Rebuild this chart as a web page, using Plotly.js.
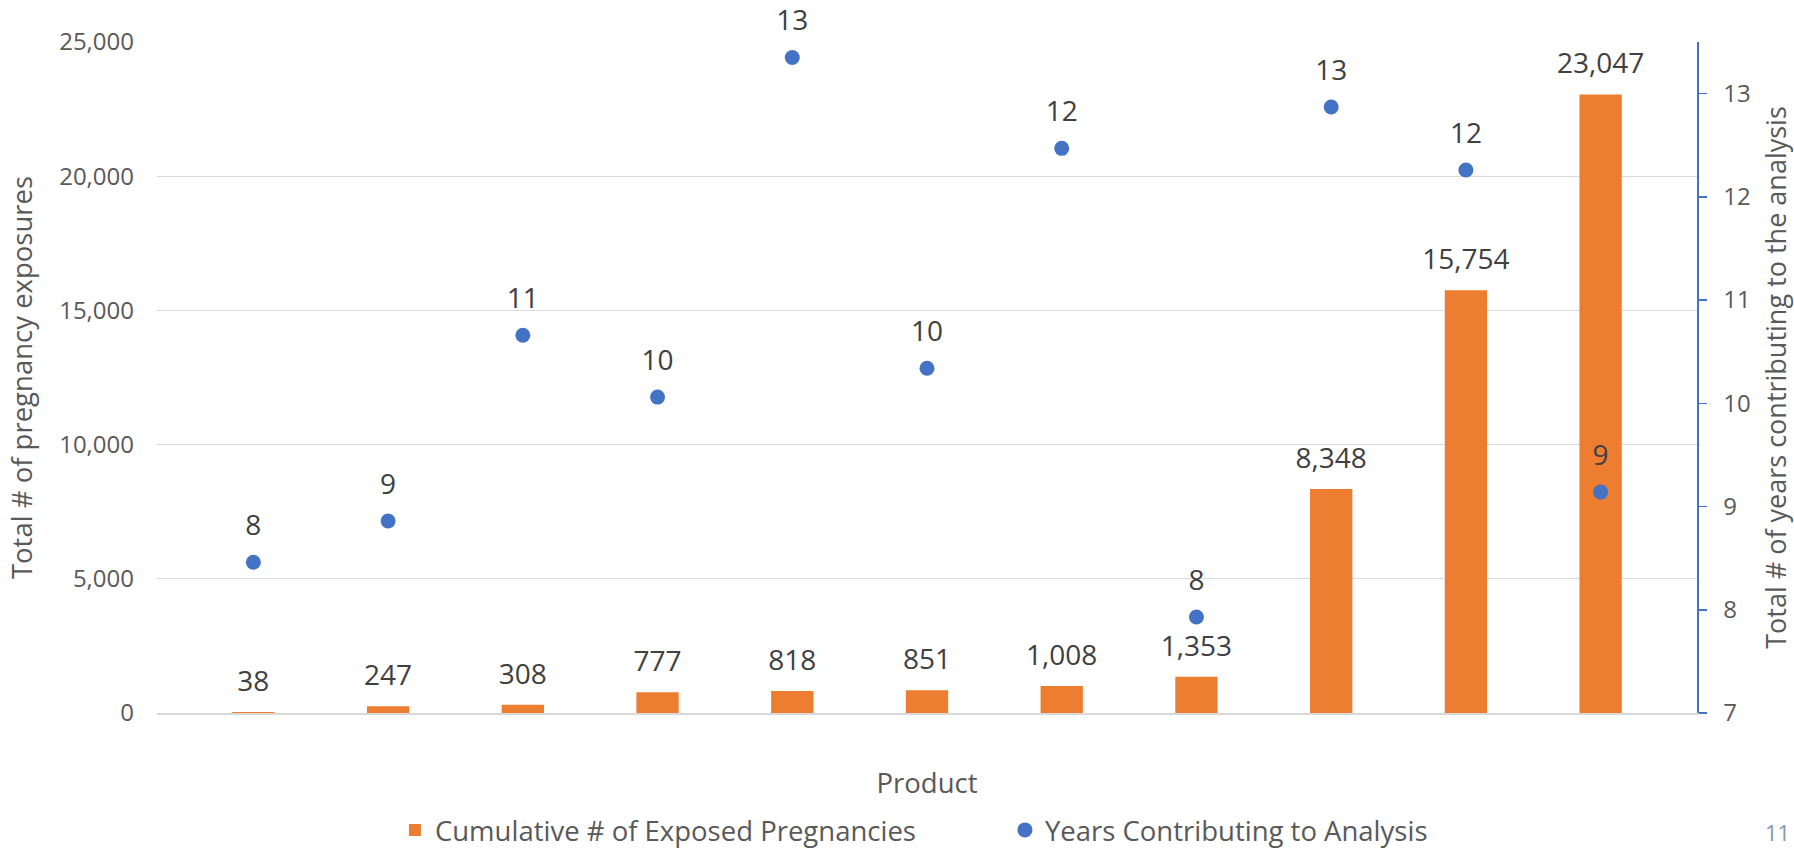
<!DOCTYPE html>
<html>
<head>
<meta charset="utf-8">
<script src="https://cdn.plot.ly/plotly-3.0.1.min.js"></script>
<style>
html,body{margin:0;padding:0;background:#ffffff;}
#chart{width:1794px;height:850px;}
</style>
</head>
<body>
<div id="chart"></div>
<script>
// ---- data ----
const products = ['1','2','3','4','5','6','7','8','9','10','11'];
const exposedPregnancies = [38, 247, 308, 777, 818, 851, 1008, 1353, 8348, 15754, 23047];
const yearsContributing = [8.46, 8.86, 10.66, 10.06, 13.35, 10.34, 12.47, 7.93, 12.87, 12.26, 9.14];
const leftTicks = [0, 5000, 10000, 15000, 20000, 25000];
const rightTicks = [7, 8, 9, 10, 11, 12, 13];
const barName = 'Cumulative # of Exposed Pregnancies';
const pointName = 'Years Contributing to Analysis';
const slideNumber = '11';

const ORANGE = '#ED7D31';
const BLUE = '#4472C4';
const LABEL = '#404040';
const AXIS = '#595959';
const GRID = '#D9D9D9';
const FONT = 'Open Sans, Noto Sans, sans-serif';

const traces = [
  {
    type: 'bar', x: products, y: exposedPregnancies, name: barName,
    marker: {color: ORANGE}, yaxis: 'y', hoverinfo: 'y'
  },
  {
    type: 'scatter', mode: 'markers+text', x: products, y: exposedPregnancies,
    texttemplate: '%{y:,}', textposition: 'top center', cliponaxis: false,
    textfont: {family: FONT, size: 28, color: LABEL},
    marker: {size: 21, color: 'rgba(0,0,0,0)'},
    showlegend: false, hoverinfo: 'skip', yaxis: 'y'
  },
  {
    type: 'scatter', mode: 'markers', x: products, y: yearsContributing, name: pointName,
    marker: {size: 15, color: BLUE}, yaxis: 'y2', hoverinfo: 'y', cliponaxis: false
  },
  {
    type: 'scatter', mode: 'markers+text', x: products, y: yearsContributing,
    text: yearsContributing.map(v => String(Math.round(v))), textposition: 'top center',
    cliponaxis: false,
    textfont: {family: FONT, size: 28, color: LABEL},
    marker: {size: 31, color: 'rgba(0,0,0,0)'},
    showlegend: false, hoverinfo: 'skip', yaxis: 'y2'
  }
];

const layout = {
  width: 1794, height: 850,
  margin: {l: 157, r: 97, t: 42, b: 137, pad: 0},
  paper_bgcolor: '#ffffff', plot_bgcolor: '#ffffff',
  font: {family: FONT, color: AXIS, size: 24},
  bargap: 0.686,
  showlegend: true,
  xaxis: {
    type: 'category', showticklabels: false, ticks: '', showgrid: false,
    showline: true, linecolor: GRID, linewidth: 1.5, zeroline: false,
    title: {text: 'Product', font: {family: FONT, size: 27.5, color: AXIS}, standoff: 60}
  },
  yaxis: {
    range: [0, 25000], tickvals: leftTicks, tickformat: ',', showgrid: true,
    gridcolor: GRID, gridwidth: 1.3, zeroline: false, showline: false, ticks: '',
    ticklabelstandoff: 22, tickfont: {family: FONT, size: 24, color: AXIS},
    title: {text: 'Total # of pregnancy exposures', font: {family: FONT, size: 27.5, color: AXIS}, standoff: 18}
  },
  yaxis2: {
    overlaying: 'y', side: 'right', range: [7, 13.5], tickvals: rightTicks,
    showgrid: false, zeroline: false, showline: true, linecolor: BLUE, linewidth: 1.5,
    ticks: 'outside', ticklen: 8, tickcolor: BLUE, tickwidth: 1.5,
    ticklabelstandoff: 12, tickfont: {family: FONT, size: 24, color: AXIS},
    title: {text: 'Total # of years contributing to the analysis', font: {family: FONT, size: 27, color: AXIS}, standoff: 18}
  },
  legend: {
    orientation: 'h', x: 0.5506, xanchor: 'center', yref: 'container', y: 0.0235, yanchor: 'middle',
    font: {family: FONT, size: 27.5, color: AXIS}, entrywidth: 565, entrywidthmode: 'pixels',
    bgcolor: 'rgba(0,0,0,0)'
  },
  annotations: [{
    text: slideNumber, xref: 'paper', yref: 'paper', x: 1.0617, y: -0.2028,
    xanchor: 'right', yanchor: 'bottom', showarrow: false,
    font: {family: FONT, size: 22, color: '#8497B0'}
  }]
};

Plotly.newPlot('chart', traces, layout, {displayModeBar: false, staticPlot: true});
</script>
</body>
</html>
